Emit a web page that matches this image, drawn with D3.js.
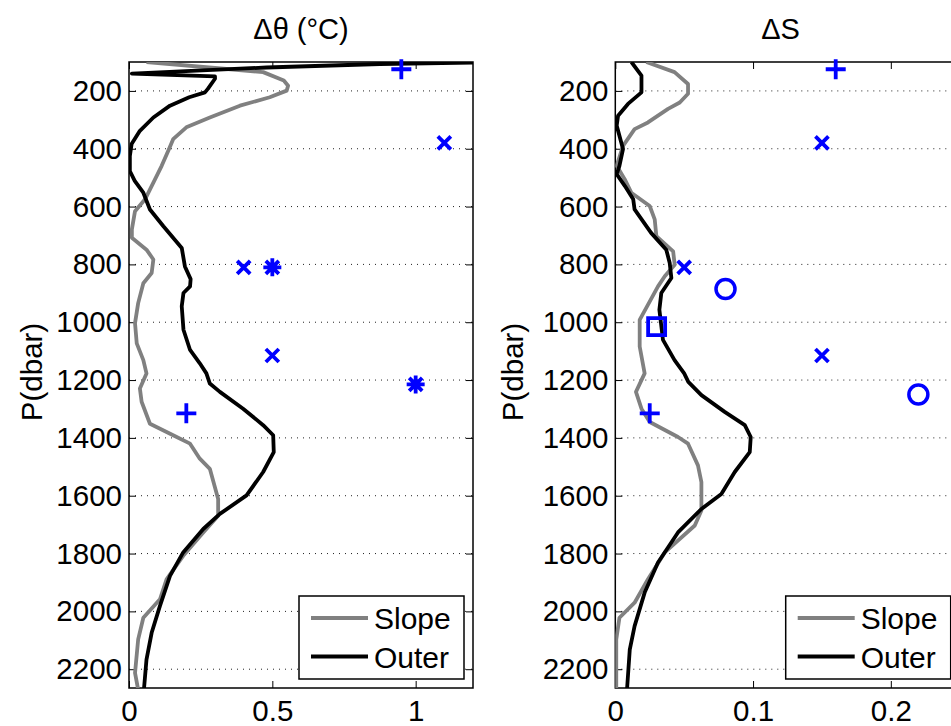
<!DOCTYPE html>
<html>
<head>
<meta charset="utf-8">
<script src="https://cdn.jsdelivr.net/npm/d3@7"></script>
<style>
  body { margin: 0; background: #fff; }
  text { font-family: "Liberation Sans", Arial, Helvetica, sans-serif; fill: #000; }
</style>
</head>
<body>
<script>
// ---- data ----
// left panel: potential temperature anomaly
var theta_slope_p = [100,135,164,182,199,222,251,292,326,367,407,459,517,575,616,679,708,749,783,830,865,934,1003,1073,1131,1177,1229,1275,1351,1391,1420,1472,1507,1611,1669,1727,1808,1889,1958,2022,2097,2213,2271];
var theta_slope_v = [0.061,0.468,0.54,0.555,0.55,0.491,0.387,0.282,0.2,0.154,0.137,0.114,0.085,0.056,0.021,0.01,0.01,0.061,0.085,0.079,0.05,0.032,0.021,0.027,0.05,0.061,0.038,0.044,0.073,0.154,0.213,0.247,0.282,0.311,0.311,0.259,0.189,0.131,0.108,0.05,0.032,0.021,0.032];
var theta_outer_p = [100,107,119,140,150,158,193,205,222,251,292,338,384,425,477,511,552,610,668,743,807,851,876,899,945,1026,1096,1142,1177,1212,1241,1299,1356,1391,1449,1518,1599,1663,1715,1796,1877,1981,2074,2167,2271];
var theta_outer_v = [1.3,0.875,0.48,0.01,0.30,0.30,0.275,0.265,0.21,0.143,0.085,0.038,0.009,0.003,0.003,0.02,0.05,0.073,0.12,0.184,0.195,0.215,0.213,0.19,0.184,0.19,0.213,0.247,0.27,0.282,0.317,0.398,0.468,0.503,0.505,0.468,0.41,0.317,0.259,0.189,0.143,0.108,0.079,0.061,0.052];
var theta_mark_v = [0.95,1.1,0.4,0.5,0.5,1.0,0.2];
var theta_mark_p = [125,380,810,810,1115,1215,1315];
var theta_mark_t = ["plus","x","x","star","x","star","plus"];

// right panel: salinity anomaly
var sal_slope_p = [100,135,176,210,240,262,309,332,390,459,505,552,598,644,702,755,801,841,876,992,1084,1177,1241,1299,1345,1397,1420,1495,1553,1651,1703,1796,1889,1970,2022,2097,2271];
var sal_slope_v = [0.0225,0.043,0.0528,0.0528,0.0468,0.0383,0.0237,0.014,0.0056,0.001,0.0068,0.0116,0.025,0.0286,0.0298,0.042,0.0431,0.0359,0.031,0.0177,0.0177,0.0213,0.015,0.019,0.025,0.0455,0.0528,0.06,0.0625,0.0625,0.0577,0.0359,0.0237,0.014,0.003,0.0007,0.0007];
var sal_outer_p = [100,147,205,245,286,320,401,459,488,529,575,610,691,749,795,847,899,957,1061,1131,1177,1206,1252,1310,1356,1397,1449,1518,1594,1646,1727,1831,1935,2051,2132,2271];
var sal_outer_v = [0.0117,0.019,0.019,0.0092,0.002,0.001,0.0056,0.003,0.001,0.007,0.013,0.014,0.026,0.037,0.0395,0.0407,0.0334,0.032,0.0346,0.043,0.050,0.053,0.0625,0.0794,0.094,0.0983,0.0976,0.0867,0.077,0.0625,0.0455,0.031,0.0213,0.014,0.0105,0.0085];
var sal_mark_v = [0.16,0.15,0.05,0.08,0.03,0.15,0.22,0.025];
var sal_mark_p = [125,380,810,885,1015,1115,1250,1315];
var sal_mark_t = ["plus","x","x","circle","square","x","circle","plus"];

var p_ticks = [200,400,600,800,1000,1200,1400,1600,1800,2000,2200];
var legend_labels = ["Slope","Outer"];

// ---- layout ----
var width = 951, height = 726;
var plot_top = 62, plot_bottom = 688;
var slope_color = "#808080", outer_color = "#000000", mark_color = "#0000ff";
var font_stack = "'Liberation Sans', Arial, Helvetica, sans-serif";

var svg = d3.select("body").append("svg")
    .attr("width", width)
    .attr("height", height);

var y_scale = d3.scaleLinear().domain([100, 2265]).range([plot_top, plot_bottom]);

function zip(vs, ps) {
    return vs.map(function (v, i) { return [v, ps[i]]; });
}

// marker shape paths (MATLAB style line markers)
function marker_path(type) {
    if (type == "plus") return "M-10,0H10M0,-10V10";
    if (type == "x") return "M-6.5,-6.5L6.5,6.5M-6.5,6.5L6.5,-6.5";
    if (type == "star") return "M-9,0H9M0,-9V9M-6.5,-6.5L6.5,6.5M-6.5,6.5L6.5,-6.5";
    if (type == "square") return "M-8.5,-8.5H8.5V8.5H-8.5Z";
    return "";
}

function draw_panel(cfg) {
    var x_scale = d3.scaleLinear().domain(cfg.x_domain).range([cfg.left, cfg.right]);
    var g = svg.append("g");

    // clip to the axes box
    var clip_id = "clip-" + cfg.id;
    svg.append("clipPath").attr("id", clip_id)
        .append("rect")
        .attr("x", cfg.left).attr("y", plot_top)
        .attr("width", cfg.right - cfg.left).attr("height", plot_bottom - plot_top);

    // dotted horizontal grid
    g.selectAll(".grid-" + cfg.id)
        .data(p_ticks)
        .enter()
        .append("line")
        .attr("class", "grid-" + cfg.id)
        .attr("x1", cfg.left).attr("x2", cfg.right)
        .attr("y1", function (d) { return y_scale(d); })
        .attr("y2", function (d) { return y_scale(d); })
        .attr("stroke", "#222")
        .attr("stroke-width", 1)
        .attr("stroke-dasharray", "1,5");

    // axes with inward ticks on all four sides
    var ax_left = d3.axisLeft(y_scale).tickValues(p_ticks).tickSizeInner(-7).tickSizeOuter(0).tickPadding(7)
        .tickFormat(d3.format("d"));
    var ax_right = d3.axisRight(y_scale).tickValues(p_ticks).tickSizeInner(-7).tickSizeOuter(0).tickFormat("");
    var ax_bottom = d3.axisBottom(x_scale).tickValues(cfg.x_ticks).tickSizeInner(-7).tickSizeOuter(0).tickPadding(12)
        .tickFormat(function (d) { return String(d); });
    var ax_top = d3.axisTop(x_scale).tickValues(cfg.x_ticks).tickSizeInner(-7).tickSizeOuter(0).tickFormat("");

    [[ax_left, "translate(" + cfg.left + ",0)"],
     [ax_right, "translate(" + cfg.right + ",0)"],
     [ax_bottom, "translate(0," + plot_bottom + ")"],
     [ax_top, "translate(0," + plot_top + ")"]].forEach(function (a) {
        var ag = g.append("g").attr("transform", a[1]).call(a[0]);
        ag.select(".domain").remove();
        ag.selectAll("line").attr("stroke", "#000").attr("stroke-width", 1);
        ag.selectAll("text").style("font-size", "29.5px").attr("fill", "#000")
            .style("font-family", font_stack);
    });

    // box
    g.append("rect")
        .attr("x", cfg.left).attr("y", plot_top)
        .attr("width", cfg.right - cfg.left).attr("height", plot_bottom - plot_top)
        .attr("fill", "none").attr("stroke", "#000").attr("stroke-width", 1.5);

    // profiles
    var line_gen = d3.line()
        .x(function (d) { return x_scale(d[0]); })
        .y(function (d) { return y_scale(d[1]); });

    var lines_g = g.append("g").attr("clip-path", "url(#" + clip_id + ")");
    lines_g.append("path")
        .attr("d", line_gen(zip(cfg.slope_v, cfg.slope_p)))
        .attr("fill", "none").attr("stroke", slope_color).attr("stroke-width", 3.8)
        .attr("stroke-linejoin", "round");
    lines_g.append("path")
        .attr("d", line_gen(zip(cfg.outer_v, cfg.outer_p)))
        .attr("fill", "none").attr("stroke", outer_color).attr("stroke-width", 3.8)
        .attr("stroke-linejoin", "round");

    // markers
    var marks = cfg.mark_v.map(function (v, i) { return { v: v, p: cfg.mark_p[i], t: cfg.mark_t[i] }; });
    var mark_g = g.selectAll(".mark-" + cfg.id)
        .data(marks)
        .enter()
        .append("g")
        .attr("class", "mark-" + cfg.id)
        .attr("transform", function (d) { return "translate(" + x_scale(d.v) + "," + y_scale(d.p) + ")"; });
    mark_g.filter(function (d) { return d.t != "circle"; })
        .append("path")
        .attr("d", function (d) { return marker_path(d.t); })
        .attr("fill", "none").attr("stroke", mark_color).attr("stroke-width", 3.8);
    mark_g.filter(function (d) { return d.t == "circle"; })
        .append("circle")
        .attr("r", 9.5)
        .attr("fill", "none").attr("stroke", mark_color).attr("stroke-width", 3.5);

    // title
    svg.append("text")
        .attr("x", (cfg.left + cfg.right) / 2 + cfg.title_dx)
        .attr("y", 39)
        .attr("text-anchor", "middle")
        .style("font-size", "29px")
        .text(cfg.title);

    // y label
    svg.append("text")
        .attr("transform", "translate(" + cfg.ylabel_x + ",372) rotate(-90)")
        .attr("text-anchor", "middle")
        .style("font-size", "29.5px")
        .text("P(dbar)");

    // legend
    var lg_w = 165, lg_h = 83;
    var lg_x = cfg.right - 9 - lg_w, lg_y = 596;
    var lg = svg.append("g").attr("transform", "translate(" + lg_x + "," + lg_y + ")");
    lg.append("rect")
        .attr("width", lg_w).attr("height", lg_h)
        .attr("fill", "#fff").attr("stroke", "#000").attr("stroke-width", 1.5);
    var lg_items = lg.selectAll(".legend-item-" + cfg.id)
        .data(legend_labels)
        .enter()
        .append("g")
        .attr("class", "legend-item-" + cfg.id)
        .attr("transform", function (d, i) { return "translate(0," + (22 + i * 38.5) + ")"; });
    lg_items.append("line")
        .attr("x1", 12).attr("x2", 69).attr("y1", 0).attr("y2", 0)
        .attr("stroke", function (d, i) { return i == 0 ? slope_color : outer_color; })
        .attr("stroke-width", 4);
    lg_items.append("text")
        .attr("x", 75).attr("y", 11)
        .style("font-size", "30px")
        .text(function (d) { return d; });
}

draw_panel({
    id: "theta", left: 129, right: 473, x_domain: [0, 1.2], x_ticks: [0, 0.5, 1],
    slope_v: theta_slope_v, slope_p: theta_slope_p,
    outer_v: theta_outer_v, outer_p: theta_outer_p,
    mark_v: theta_mark_v, mark_p: theta_mark_p, mark_t: theta_mark_t,
    title: "\u0394\u03b8 (\u00b0C)", title_dx: 0, ylabel_x: 42
});

draw_panel({
    id: "sal", left: 615.3, right: 959.7, x_domain: [0, 0.25], x_ticks: [0, 0.1, 0.2],
    slope_v: sal_slope_v, slope_p: sal_slope_p,
    outer_v: sal_outer_v, outer_p: sal_outer_p,
    mark_v: sal_mark_v, mark_p: sal_mark_p, mark_t: sal_mark_t,
    title: "\u0394S", title_dx: -7, ylabel_x: 523
});
</script>
</body>
</html>
